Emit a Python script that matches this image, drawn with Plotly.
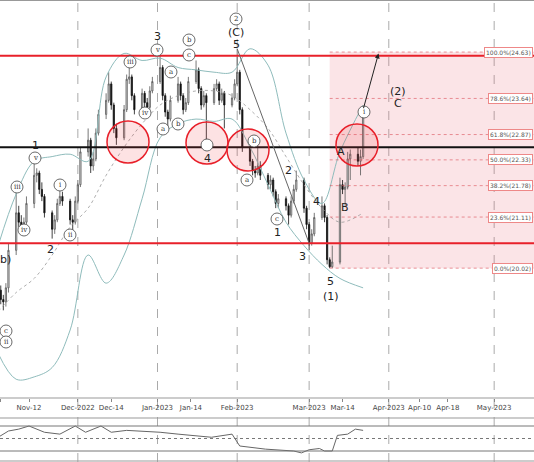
import pandas as pd
import plotly.graph_objects as go

# ---- price data (daily candles) ----
dates = pd.bdate_range("2022-10-31", "2023-03-22")

opens = [19.70, 19.55, 19.35, 19.30, 19.60, 20.40, 21.20, 21.00, 20.90, 21.00, 21.40, 22.00, 22.05, 21.70, 21.55, 21.20,
         20.85, 21.05, 21.40, 21.55, 21.45, 21.05, 21.00,
         21.45, 21.80, 22.50, 22.75, 22.20, 22.35, 22.90, 23.30, 23.60, 23.95, 23.50, 23.00, 22.80, 23.40, 24.05, 24.10,
         23.70, 23.40, 23.75, 23.55, 23.45, 23.80,
         24.00, 24.30, 23.70, 23.35, 23.20, 23.60, 23.95, 23.70, 23.40, 23.55, 24.00, 24.25, 23.85, 23.50, 23.70, 23.55,
         23.85, 23.95, 23.60, 23.75, 23.50, 23.65,
         23.95, 24.20, 23.40, 22.60, 22.30, 22.10, 22.05, 22.20, 22.00, 21.80, 21.90, 21.65, 21.40, 21.50, 21.35, 21.15,
         21.45, 21.70, 21.90, 21.30,
         20.95, 20.55, 20.75, 21.10, 21.35, 21.10, 20.20, 20.05, 20.15, 21.80, 21.70, 21.75, 22.35, 22.45, 22.30, 22.40]
closes = [19.55, 19.35, 19.30, 19.60, 20.40, 21.20, 21.00, 20.90, 21.00, 21.40, 22.00, 22.05, 21.70, 21.55, 21.20, 20.85,
          21.05, 21.40, 21.55, 21.45, 21.05, 21.00, 21.45,
          21.80, 22.50, 22.75, 22.20, 22.35, 22.90, 23.30, 23.60, 23.95, 23.50, 23.00, 22.80, 23.40, 24.05, 24.10, 23.70,
          23.40, 23.75, 23.55, 23.45, 23.80, 24.00,
          24.30, 23.70, 23.35, 23.20, 23.60, 23.95, 23.70, 23.40, 23.55, 24.00, 24.25, 23.85, 23.50, 23.70, 23.55, 23.85,
          23.95, 23.60, 23.75, 23.50, 23.65, 23.95,
          24.20, 23.40, 22.60, 22.30, 22.10, 22.05, 22.20, 22.00, 21.80, 21.90, 21.65, 21.40, 21.50, 21.35, 21.15, 21.45,
          21.70, 21.90, 21.30, 20.95,
          20.55, 20.75, 21.10, 21.35, 21.10, 20.20, 20.05, 20.15, 21.80, 21.70, 21.75, 22.35, 22.45, 22.30, 22.40, 23.30]
highs = [19.85, 19.65, 19.45, 19.70, 20.55, 21.80, 21.35, 21.15, 21.10, 21.55, 22.25, 22.15, 22.10, 21.85, 21.60, 21.25,
         21.15, 21.50, 21.70, 21.65, 21.50, 21.15, 21.55,
         21.90, 22.60, 23.00, 22.80, 22.50, 23.00, 23.40, 23.75, 24.20, 24.00, 23.55, 23.10, 23.50, 24.15, 24.35, 24.15,
         23.75, 23.85, 23.80, 23.65, 23.90, 24.10,
         24.65, 24.35, 23.75, 23.40, 23.70, 24.10, 24.00, 23.75, 23.65, 24.10, 24.45, 24.30, 23.90, 23.80, 23.75, 23.95,
         24.05, 24.00, 23.85, 23.80, 23.75, 24.05,
         24.70, 24.25, 23.45, 22.65, 22.35, 22.20, 22.70, 22.30, 22.05, 22.00, 21.95, 21.70, 21.60, 21.55, 21.40, 21.55,
         21.80, 22.10, 21.95, 21.35,
         21.00, 20.85, 21.20, 21.55, 21.40, 21.15, 20.25, 20.50, 21.95, 21.90, 21.85, 22.50, 22.55, 22.60, 22.55, 23.45]
lows = [19.40, 19.25, 19.12, 19.20, 19.50, 20.30, 20.90, 20.80, 20.80, 20.95, 21.30, 21.85, 21.60, 21.45, 21.10, 20.65,
        20.75, 21.00, 21.35, 21.35, 20.95, 20.80, 20.95,
        21.40, 21.75, 22.40, 22.05, 22.10, 22.30, 22.85, 23.20, 23.55, 23.40, 22.90, 22.65, 22.75, 23.35, 23.95, 23.60,
        23.30, 23.35, 23.45, 23.30, 23.40, 23.75,
        23.95, 23.60, 23.25, 23.00, 23.15, 23.55, 23.60, 23.30, 23.35, 23.50, 23.95, 23.75, 23.40, 23.45, 22.62, 23.50,
        23.80, 23.50, 23.55, 23.00, 23.45, 23.60,
        23.90, 23.30, 22.50, 22.20, 22.00, 21.95, 22.00, 21.90, 21.70, 21.70, 21.55, 21.30, 21.30, 21.25, 20.95, 21.10,
        21.40, 21.65, 21.20, 20.85,
        20.40, 20.50, 20.70, 21.05, 21.00, 20.10, 20.02, 20.02, 20.10, 21.60, 21.35, 21.70, 21.90, 22.20, 22.00, 22.35]

# ---- bollinger bands (weekly readings) ----
bb_dates = ["2022-10-31", "2022-11-07", "2022-11-14", "2022-11-21", "2022-11-28", "2022-12-05", "2022-12-12",
            "2022-12-19", "2022-12-26", "2023-01-02", "2023-01-09", "2023-01-16", "2023-01-23", "2023-01-30",
            "2023-02-06", "2023-02-13", "2023-02-20", "2023-02-27", "2023-03-06", "2023-03-13", "2023-03-22"]
bb_upper = [20.5, 21.6, 22.3, 22.4, 22.45, 22.3, 24.1, 24.6, 24.45, 24.5, 24.3, 24.25, 24.2, 24.2, 24.7, 24.35,
            22.9, 21.9, 21.4, 22.5, 23.5]
bb_mid = [19.1, 19.5, 19.8, 20.3, 20.9, 21.3, 22.0, 22.6, 23.1, 23.5, 23.7, 23.8, 23.8, 23.7, 23.4, 23.0,
          22.4, 21.8, 21.3, 21.0, 21.2]
bb_lower = [18.2, 17.65, 17.7, 17.9, 18.7, 20.3, 19.7, 20.3, 21.5, 22.8, 23.1, 23.2, 23.15, 23.2, 22.6, 21.8,
            21.0, 20.5, 20.1, 19.8, 19.6]

# ---- oscillator ----
osc_dates = ["2022-10-31", "2022-11-04", "2022-11-08", "2022-11-12", "2022-11-18", "2022-11-24", "2022-11-30",
             "2022-12-04", "2022-12-10", "2022-12-14", "2022-12-20", "2022-12-26", "2023-01-02", "2023-01-09",
             "2023-01-14", "2023-01-22", "2023-01-30", "2023-02-02", "2023-02-12", "2023-02-18", "2023-02-23",
             "2023-02-26", "2023-03-01", "2023-03-05", "2023-03-07", "2023-03-10", "2023-03-12", "2023-03-16",
             "2023-03-19", "2023-03-22"]
osc_vals = [52, 62, 65, 70, 60, 57, 70, 60, 70, 60, 63, 62, 60, 57, 55, 52, 57, 38, 33, 32, 30, 27, 32, 34, 30,
            30, 55, 57, 65, 63]

# ---- levels ----
fib_pct = ["0.0%", "23.6%", "38.2%", "50.0%", "61.8%", "78.6%", "100.0%"]
fib_price = [20.02, 21.11, 21.78, 22.33, 22.87, 23.64, 24.63]
red_levels = [24.55, 20.55]
black_level = 22.60

# the source chart stretches the future part of its time axis, so the
# ticks past the last candle sit where the original drew them
tick_dates = ["2022-11-01", "2022-11-12", "2022-12-01", "2022-12-14", "2023-01-01", "2023-01-14", "2023-02-01",
              "2023-03-01", "2023-03-14", "2023-04-01", "2023-04-13", "2023-04-24", "2023-05-12"]
tick_text = ["Nov-2022", "Nov-12", "Dec-2022", "Dec-14", "Jan-2023", "Jan-14", "Feb-2023", "Mar-2023", "Mar-14",
             "Apr-2023", "Apr-10", "Apr-18", "May-2023"]
month_lines = ["2022-12-01", "2023-01-01", "2023-02-01", "2023-03-01", "2023-04-01", "2023-05-12"]

W, H = 534, 462
X_RANGE = ["2022-10-31 17:00", "2023-05-27 12:00"]


def px(x, y):
    return x / W, 1 - y / H


fig = go.Figure()

band = dict(color="#8fbcbc", width=1)
fig.add_trace(go.Scatter(x=bb_dates, y=bb_upper, mode="lines", line=band, line_shape="spline"))
fig.add_trace(go.Scatter(x=bb_dates, y=bb_lower, mode="lines", line=band, line_shape="spline"))
fig.add_trace(go.Scatter(x=bb_dates, y=bb_mid, mode="lines", line=dict(color="#999", width=0.8, dash="dot"),
                         line_shape="spline"))

fig.add_trace(go.Candlestick(
    x=dates, open=opens, high=highs, low=lows, close=closes,
    increasing=dict(line=dict(color="#555", width=0.8), fillcolor="#e8e8e8"),
    decreasing=dict(line=dict(color="#111", width=0.8), fillcolor="#111"),
    whiskerwidth=0, showlegend=False,
))

fig.add_trace(go.Scatter(x=osc_dates, y=osc_vals, mode="lines", line=dict(color="#666", width=1),
                         xaxis="x2", yaxis="y2"))

shapes = []
# fib box
shapes.append(dict(type="rect", xref="x", yref="y", x0="2023-03-09", x1=X_RANGE[1], y0=fib_price[0],
                   y1=fib_price[-1], fillcolor="rgba(235,120,135,0.2)", line_width=0, layer="below"))
for p in fib_price:
    shapes.append(dict(type="line", xref="x", yref="y", x0="2023-03-09", x1=X_RANGE[1], y0=p, y1=p,
                       line=dict(color="rgba(220,80,90,0.6)", width=1, dash="dot")))
for m in month_lines:
    shapes.append(dict(type="line", xref="x", yref="paper", x0=m, x1=m, y0=0, y1=1,
                       line=dict(color="#aaa", width=1, dash="dash"), layer="below"))
for p in red_levels:
    shapes.append(dict(type="line", xref="paper", yref="y", x0=0, x1=1, y0=p, y1=p,
                       line=dict(color="#e8202a", width=2)))
shapes.append(dict(type="line", xref="paper", yref="y", x0=0, x1=1, y0=black_level, y1=black_level,
                   line=dict(color="#111", width=2)))
# wave line from top of 5 down
shapes.append(dict(type="line", xref="x", yref="y", x0="2023-02-01", y0=24.70, x1="2023-03-01", y1=20.55,
                   line=dict(color="#666", width=1)))
# oscillator levels
for v, d in [(70, "solid"), (50, "dot"), (30, "solid")]:
    shapes.append(dict(type="line", xref="paper", yref="y2", x0=0, x1=1, y0=v, y1=v,
                       line=dict(color="#777", width=1, dash=d)))
# panel borders
for yy in [0.5, 398, 418, 461]:
    x0, y0 = px(0, yy)
    shapes.append(dict(type="line", xref="paper", yref="paper", x0=0, x1=1, y0=y0, y1=y0,
                       line=dict(color="#999", width=1)))

# red circles
for cx, cy in [(128, 142), (207, 143), (248, 150), (357, 145)]:
    x0, y0 = px(cx - 21, cy - 21)
    x1, y1 = px(cx + 21, cy + 21)
    shapes.append(dict(type="circle", xref="paper", yref="paper", x0=x0, x1=x1, y0=y0, y1=y1,
                       fillcolor="rgba(240,60,70,0.15)", line=dict(color="#e8202a", width=1.5)))

ann = []
# circled wave labels
circled = [("v", 157, 50), ("b", 189, 40), ("c", 189, 55), ("2", 236, 19), ("iii", 130, 62), ("a", 171, 72),
           ("iv", 145, 113), ("a", 163, 129), ("b", 178, 124), ("v", 35, 158), ("iii", 17, 187), ("i", 60, 185),
           ("iv", 24, 230), ("ii", 70, 235), ("c", 6, 331), ("ii", 6, 342), ("b", 254, 141), ("a", 247, 180),
           ("c", 277, 219), ("i", 364, 112), ("", 207, 145)]
for t, x, y in circled:
    x0, y0 = px(x - 6, y - 6)
    x1, y1 = px(x + 6, y + 6)
    shapes.append(dict(type="circle", xref="paper", yref="paper", x0=x0, x1=x1, y0=y0, y1=y1,
                       fillcolor="white", line=dict(color="#444", width=0.8)))
    ax_, ay_ = px(x, y)
    ann.append(dict(text=t, x=ax_, y=ay_, xref="paper", yref="paper", xanchor="center", yanchor="middle",
                    showarrow=False, font=dict(size=7, family="DejaVu Serif", color="#333")))

plain = [("3", 157, 36), ("(C)", 236, 33), ("5", 236, 45), ("4", 207, 158), ("1", 35, 145), ("2", 50, 249),
         ("b)", 5, 259), ("2", 288, 170), ("1", 277, 233), ("3", 302, 256), ("4", 316, 202), ("5", 330, 281),
         ("(1)", 331, 296), ("A", 341, 151), ("B", 345, 207), ("(2)", 398, 91), ("C", 398, 103)]
for t, x, y in plain:
    ax_, ay_ = px(x, y)
    ann.append(dict(text=t, x=ax_, y=ay_, xref="paper", yref="paper", xanchor="center", yanchor="middle",
                    showarrow=False, font=dict(size=11, family="DejaVu Sans", color="#222")))

# fib labels
for pct, p in zip(fib_pct, fib_price):
    ann.append(dict(text=f"{pct}({p:.2f})", x=0.998, y=p, xref="paper", yref="y", xanchor="right",
                    showarrow=False, font=dict(size=6, color="#555"), bgcolor="white",
                    bordercolor="#e88", borderwidth=1, borderpad=1))

# projection arrow
ann.append(dict(x="2023-03-28", y=24.60, ax="2023-03-22", ay=23.40, xref="x", yref="y", axref="x", ayref="y",
                showarrow=True, arrowhead=2, arrowsize=1, arrowwidth=1, arrowcolor="#222", text=""))

fig.update_layout(
    width=W, height=H, margin=dict(l=0, r=0, t=0, b=0),
    plot_bgcolor="white", paper_bgcolor="white", showlegend=False,
    shapes=shapes, annotations=ann,
    xaxis=dict(domain=[0, 1], range=X_RANGE, type="date", tickvals=tick_dates, ticktext=tick_text,
               tickfont=dict(size=7, color="#444"), tickangle=0, showgrid=False,
               rangeslider=dict(visible=False), ticks="outside", ticklen=3, tickcolor="#888", anchor="y"),
    yaxis=dict(domain=[1 - 398 / H, 1], range=[17.25, 25.74], visible=False),
    xaxis2=dict(domain=[0, 1], range=X_RANGE, type="date", visible=False, anchor="y2"),
    yaxis2=dict(domain=[0, 42 / H], range=[12.4, 79.6], visible=False),
    font=dict(family="DejaVu Sans"),
)

fig.write_html("out.html", config={"displayModeBar": False},
               post_script="document.body.style.margin='0';")
